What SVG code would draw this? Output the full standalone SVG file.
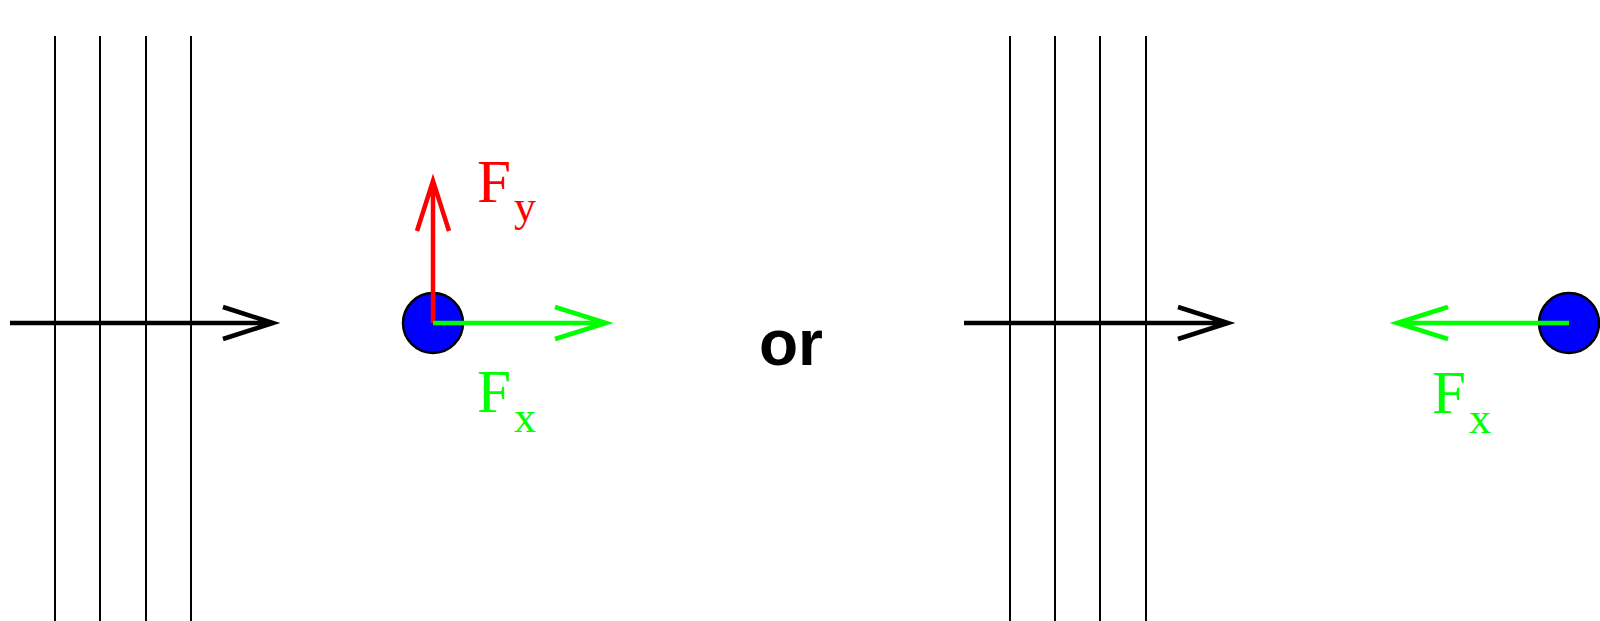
<svg xmlns="http://www.w3.org/2000/svg" width="1600" height="621" viewBox="0 0 1600 621">
<style>
.grid{stroke:#000;stroke-width:2;fill:none}
.ax{stroke:#000;stroke-width:4.5;fill:none;stroke-linecap:butt}
.red{stroke:#ff0000;stroke-width:4.5;fill:none}
.green{stroke:#00ff00;stroke-width:4.5;fill:none}
.ball{fill:#0000ff;stroke:#000;stroke-width:2.5}
.lab{font-family:"Liberation Serif","Times New Roman",serif;font-size:61px}
.sub{font-size:44px}
.or{font-family:"Liberation Sans",Arial,sans-serif;font-weight:bold;font-size:64px;fill:#000}
</style>
<rect width="1600" height="621" fill="#fff"/>
<g id="planes-left">
<line class="grid" x1="55" y1="36" x2="55" y2="621"/>
<line class="grid" x1="100" y1="36" x2="100" y2="621"/>
<line class="grid" x1="146" y1="36" x2="146" y2="621"/>
<line class="grid" x1="191" y1="36" x2="191" y2="621"/>
</g>
<g id="planes-right">
<line class="grid" x1="1010" y1="36" x2="1010" y2="621"/>
<line class="grid" x1="1055" y1="36" x2="1055" y2="621"/>
<line class="grid" x1="1100" y1="36" x2="1100" y2="621"/>
<line class="grid" x1="1146" y1="36" x2="1146" y2="621"/>
</g>
<g id="ball-left">
<circle class="ball" cx="433" cy="323" r="30"/>
</g>
<g id="ball-right">
<circle class="ball" cx="1569" cy="323" r="30"/>
</g>
<g id="connectors">
<path class="ax" d="M10 323H273M223 307L273 323L223 339"/>
<path class="ax" d="M964 323H1228M1178 307L1228 323L1178 339"/>
<path class="red" d="M433 323V181M417 231L433 181L449 231"/>
<path class="green" d="M433 323H606M555 307L606 323L555 339"/>
<path class="green" d="M1569 323H1397M1448 307L1397 323L1448 339"/>
</g>
<g id="labels">
<text class="lab" x="477" y="202" fill="#ff0000">F<tspan class="sub" x="514" y="221">y</tspan></text>
<text class="lab" x="477" y="412" fill="#00ff00">F<tspan class="sub" x="514" y="432">x</tspan></text>
<text class="lab" x="1432" y="413" fill="#00ff00">F<tspan class="sub" x="1469" y="433">x</tspan></text>
<text class="or" x="759" y="365">or</text>
</g>
</svg>
